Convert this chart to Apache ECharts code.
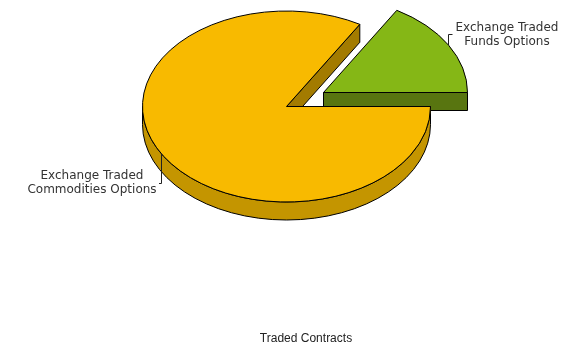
<!DOCTYPE html>
<html>
<head>
<meta charset="utf-8">
<style>html,body{margin:0;padding:0;background:#fff}#c{width:581px;height:347px}</style>
<script src="https://cdn.jsdelivr.net/npm/echarts@6/dist/echarts.min.js"></script>
</head>
<body>
<div id="c"></div>
<script>
var categories = ['Exchange Traded\nFunds Options', 'Exchange Traded\nCommodities Options'];
var values = [16.5, 83.5];
var titleText = 'Traded Contracts';
var topColors = ['#85B716', '#F8BA00'];
var rimColors = ['#587510', '#C49500'];
var cutColors = ['#587510', '#A37B00'];
var explodeX = [37, 0], explodeY = [-14, 0];
var labelX = [507, 92], labelY = [35, 183];
var leaders = ['M452.5 34.5L448.5 34.5L448.5 45', 'M161.5 153L161.5 183.5L159 183.5'];

var CX = 286.5, CY = 106.5, RX = 144, RY = 95.5, DEPTH = 18;
var total = values.reduce(function (a, b) { return a + b; }, 0);

function pt(cx, cy, t, dy) {
  return [cx + RX * Math.cos(t), cy - RY * Math.sin(t) + (dy || 0)];
}
function P(p) { return p[0].toFixed(2) + ' ' + p[1].toFixed(2); }

function renderItem(params, api) {
  var i = params.dataIndex, before = 0;
  for (var k = 0; k < i; k++) before += values[k];
  var t0 = before / total * 2 * Math.PI;
  var t1 = (before + api.value(0)) / total * 2 * Math.PI;
  var cx = CX + explodeX[i], cy = CY + explodeY[i];
  var line = { stroke: '#000', lineWidth: 1 };
  var kids = [];
  function add(d, fill) {
    kids.push({ type: 'path', shape: { pathData: d },
      style: { fill: fill, stroke: line.stroke, lineWidth: line.lineWidth } });
  }
  // cut face at the starting radius
  var s = pt(cx, cy, t0), e = pt(cx, cy, t1);
  if (Math.sin(t0) >= 0) {
    add('M' + cx + ' ' + cy + 'L' + P(s) + 'L' + s[0].toFixed(2) + ' ' + (s[1] + DEPTH).toFixed(2) +
        'L' + cx + ' ' + (cy + DEPTH) + 'Z', cutColors[i]);
  }
  // outer rim, only where the slice crosses the lower half of the ellipse
  var a = Math.max(t0, Math.PI), b = Math.min(t1, 2 * Math.PI);
  if (b > a) {
    var pa = pt(cx, cy, a), pb = pt(cx, cy, b);
    add('M' + P(pa) + 'A' + RX + ' ' + RY + ' 0 0 0 ' + P(pb) +
        'L' + pb[0].toFixed(2) + ' ' + (pb[1] + DEPTH).toFixed(2) +
        'A' + RX + ' ' + RY + ' 0 0 1 ' + pa[0].toFixed(2) + ' ' + (pa[1] + DEPTH).toFixed(2) + 'Z', rimColors[i]);
  }
  // top face
  var large = (t1 - t0) > Math.PI ? 1 : 0;
  add('M' + cx + ' ' + cy + 'L' + P(s) + 'A' + RX + ' ' + RY + ' 0 ' + large + ' 0 ' + P(e) + 'Z', topColors[i]);
  // leader and label
  kids.push({ type: 'path', shape: { pathData: leaders[i] }, style: { fill: 'none', stroke: '#222', lineWidth: 1 } });
  kids.push({ type: 'text', x: labelX[i], y: labelY[i],
    style: { text: categories[i], align: 'center', verticalAlign: 'middle',
      font: '12px Verdana, "DejaVu Sans", sans-serif', fill: '#333', lineHeight: 14 } });
  return { type: 'group', children: kids };
}

var chart = echarts.init(document.getElementById('c'), null, { renderer: 'canvas' });
chart.setOption({
  animation: false,
  backgroundColor: '#fff',
  title: { text: titleText, left: 301, top: 328, textAlign: 'center',
    textStyle: { fontFamily: '"Liberation Sans", Arial, sans-serif', fontSize: 12, fontWeight: 'normal', color: '#222' } },
  series: [{
    type: 'custom', coordinateSystem: 'none', silent: true,
    data: values.map(function (v, i) { return { name: categories[i], value: [v] }; }),
    renderItem: renderItem
  }]
});
</script>
</body>
</html>
